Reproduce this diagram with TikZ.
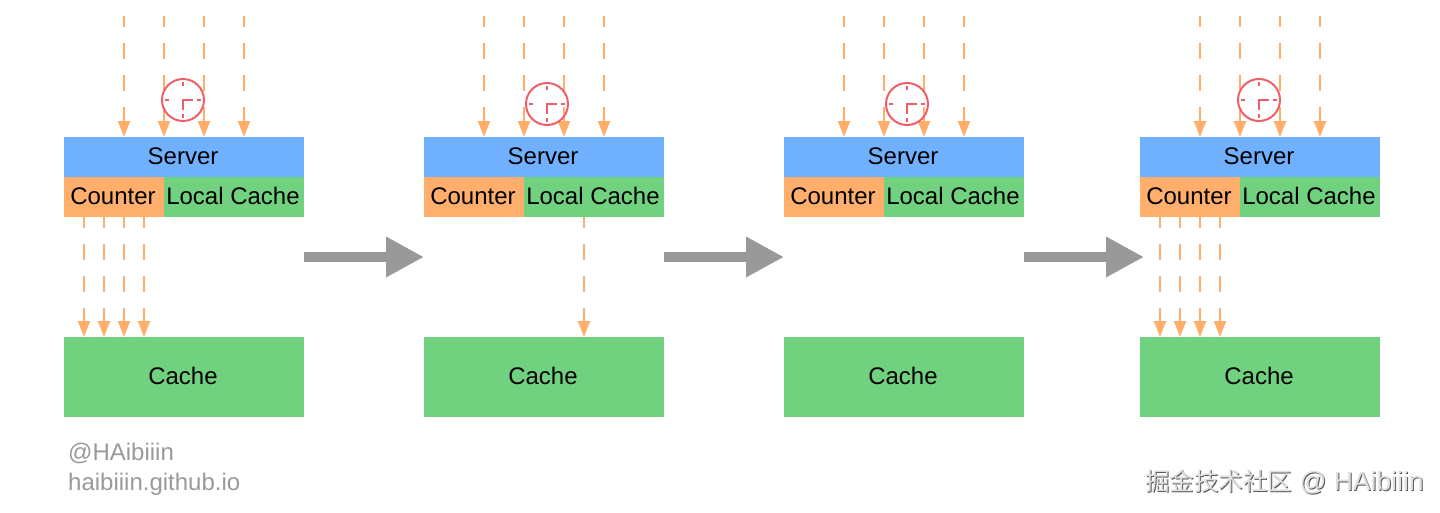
\documentclass[tikz,border=0pt]{standalone}
\usepackage{fontspec}
\setmainfont{Liberation Sans}
\newfontfamily\cjkfont{Noto Sans CJK SC}
\usetikzlibrary{arrows.meta,calc}
\definecolor{serverblue}{HTML}{70B1FF}
\definecolor{counterorange}{HTML}{FFAF6B}
\definecolor{cachegreen}{HTML}{70D27F}
\definecolor{clockred}{HTML}{EE5F68}
\tikzset{>=latex}
\newcommand{\marktext}{\cjkfont\fontsize{24.5}{28}\selectfont 掘金技术社区\fontsize{26.5}{28}\selectfont\rmfamily{} @ HAibiiin}

\begin{document}
\begin{tikzpicture}[x=1pt,y=-1pt,font=\fontsize{24}{28}\selectfont]

        % Setup the styles for the boxes and the arrows
        \tikzset{box style/.style={minimum height=40pt,
                                   inner sep=0pt,
                                   outer sep=0pt,
                                   text depth=2pt,
                                   execute at end node=\kern 2pt,
                                   text=black},
                 request/.style={line width=2.3pt,
                                 draw=counterorange,
                                 dash pattern=on 16pt off 16pt,
                                 dash phase=5pt,
                                 -{Triangle[length=16pt,width=12pt]}},
                 flow/.style={line width=10pt,
                              draw=black!40,
                              -{Triangle[length=38pt,width=38pt]}},
                 clock face/.style={circle,
                                    draw=clockred,
                                    line width=2pt,
                                    minimum size=42pt,
                                    inner sep=0pt,
                                    outer sep=0pt},
                 clock mark/.style={draw=clockred,line width=2.5pt},
                 credit/.style={anchor=base west,inner sep=0pt,text=black!40}}

        \useasboundingbox (0,0) rectangle (1440,512);

        % Draw the four panels
        \foreach \n/\dx/\cx/\cy in {1/0/183/100,2/360/547/104,3/720/907/104,4/1076/1259/100} {
            \node[box style,fill=serverblue,minimum width=240pt] at (\dx+184,157) (server\n) {Server};
            \node[box style,fill=counterorange,minimum width=100pt] at (\dx+114,197) (counter\n) {Counter};
            \node[box style,fill=cachegreen,minimum width=140pt] at (\dx+234,197) (local\n) {Local Cache};
            \node[box style,fill=cachegreen,minimum width=240pt,minimum height=80pt] at (\dx+184,377) (cache\n) {Cache};

            % Requests coming in from the top
            \foreach \i in {124,164,204,244} {
                \coordinate (in\n\i) at (\dx+\i,16);
                \draw[request] (in\n\i) -- (in\n\i |- server\n.north);
            }

            % The clock
            \node[clock face] at (\cx,\cy) (clock\n) {};
            \foreach \a in {0,90,180,270}
                \draw[clock mark] ($(clock\n.center)+(\a:14)$) -- ($(clock\n.center)+(\a:18)$);
            \draw[clock mark] ($(clock\n.center)+(10,0)$) -- (clock\n.center) -- ($(clock\n.center)+(0,10)$);
        }

        % Requests going down to the cache
        \foreach \n/\i in {1/84,1/104,1/124,1/144,2/584,4/1160,4/1180,4/1200,4/1220} {
            \coordinate (down\n\i) at (\i,217);
            \draw[request] (down\n\i) -- (down\n\i |- cache\n.north);
        }

        % Arrows between the panels
        \foreach \n/\x in {1/304,2/664,3/1024} {
            \coordinate (from\n) at (\x,257);
            \coordinate (to\n) at (\x+120,257);
            \draw[flow] (from\n) -- (to\n);
        }

        % Credits
        \node[credit] at (68,460) (handle) {@HAibiiin};
        \node[credit] at (68,490) (site) {haibiiin.github.io};
        \node[credit,text=black!65] at (1146,491) (markshadow) {\marktext};
        \node[credit,text=black!12] at (1145,490) (mark) {\marktext};
\end{tikzpicture}
\end{document}
